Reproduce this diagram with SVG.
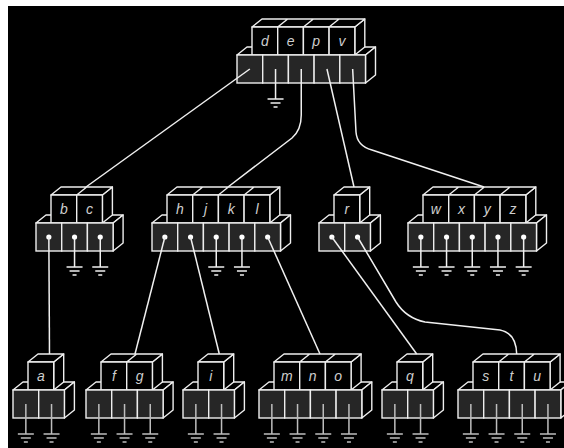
<svg xmlns="http://www.w3.org/2000/svg" xmlns:xlink="http://www.w3.org/1999/xlink" width="564" height="448" viewBox="0 0 564 448">
<style>
.f{fill:#000;stroke:#eee;stroke-width:1.4;stroke-linejoin:round}
.c{fill:#262626;stroke:#eee;stroke-width:1.4}
.t{font-family:"Liberation Sans",Arial,sans-serif;font-style:italic;font-size:14px;fill:#cfcfcf;text-anchor:middle}
.w{stroke:#f0f0f0;stroke-width:1.5;fill:none}
.g{stroke:#bdbdbd;stroke-width:1.5;fill:none}
.cn{stroke:#f0f0f0;stroke-width:1.5;fill:none}
</style>
<defs>
<g id="gnd"><path d="M0,0 V30 M-8,30 H8 M-5,34 H5 M-2,38 H2"/></g>
<circle id="dot" r="2.6" fill="#fff" stroke="none"/>
</defs>
<rect x="0" y="0" width="564" height="448" fill="#fff"/>
<rect x="8" y="6" width="556" height="442" fill="#000"/>

<g id="node-root" transform="translate(237,55)">
<path class="f" d="M0,0 L10,-8 L138.5,-8 L128.5,0Z"/>
<path class="f" d="M117.8,-28 L127.8,-36 L127.8,-8 L117.8,0Z"/>
<path class="f" d="M15,-28 L25,-36 L127.8,-36 L117.8,-28Z M40.7,-28 L50.7,-36 M66.4,-28 L76.4,-36 M92.1,-28 L102.1,-36"/>
<rect class="f" x="15" y="-28" width="25.7" height="28"/><rect class="f" x="40.7" y="-28" width="25.7" height="28"/><rect class="f" x="66.4" y="-28" width="25.7" height="28"/><rect class="f" x="92.1" y="-28" width="25.7" height="28"/>
<path class="f" d="M128.5,0 L138.5,-8 L138.5,20 L128.5,28Z"/>
<rect class="c" x="0" y="0" width="25.7" height="28"/><rect class="c" x="25.7" y="0" width="25.7" height="28"/><rect class="c" x="51.4" y="0" width="25.7" height="28"/><rect class="c" x="77.1" y="0" width="25.7" height="28"/><rect class="c" x="102.8" y="0" width="25.7" height="28"/>
<text class="t" x="27.85" y="-9">d</text><text class="t" x="53.55" y="-9">e</text><text class="t" x="79.25" y="-9">p</text><text class="t" x="104.95" y="-9">v</text>
<use href="#gnd" class="w" x="38.55" y="14"/>
</g>

<g id="node-bc" transform="translate(36,223)">
<path class="f" d="M0,0 L10,-8 L87.1,-8 L77.1,0Z"/>
<path class="f" d="M66.4,-28 L76.4,-36 L76.4,-8 L66.4,0Z"/>
<path class="f" d="M15,-28 L25,-36 L76.4,-36 L66.4,-28Z M40.7,-28 L50.7,-36"/>
<rect class="f" x="15" y="-28" width="25.7" height="28"/><rect class="f" x="40.7" y="-28" width="25.7" height="28"/>
<path class="f" d="M77.1,0 L87.1,-8 L87.1,20 L77.1,28Z"/>
<rect class="c" x="0" y="0" width="25.7" height="28"/><rect class="c" x="25.7" y="0" width="25.7" height="28"/><rect class="c" x="51.4" y="0" width="25.7" height="28"/>
<text class="t" x="27.85" y="-9">b</text><text class="t" x="53.55" y="-9">c</text>
<use href="#dot" x="12.85" y="14"/>
<use href="#gnd" class="w" x="38.55" y="14"/><use href="#dot" x="38.55" y="14"/>
<use href="#gnd" class="w" x="64.25" y="14"/><use href="#dot" x="64.25" y="14"/>
</g>

<g id="node-hjkl" transform="translate(152,223)">
<path class="f" d="M0,0 L10,-8 L138.5,-8 L128.5,0Z"/>
<path class="f" d="M117.8,-28 L127.8,-36 L127.8,-8 L117.8,0Z"/>
<path class="f" d="M15,-28 L25,-36 L127.8,-36 L117.8,-28Z M40.7,-28 L50.7,-36 M66.4,-28 L76.4,-36 M92.1,-28 L102.1,-36"/>
<rect class="f" x="15" y="-28" width="25.7" height="28"/><rect class="f" x="40.7" y="-28" width="25.7" height="28"/><rect class="f" x="66.4" y="-28" width="25.7" height="28"/><rect class="f" x="92.1" y="-28" width="25.7" height="28"/>
<path class="f" d="M128.5,0 L138.5,-8 L138.5,20 L128.5,28Z"/>
<rect class="c" x="0" y="0" width="25.7" height="28"/><rect class="c" x="25.7" y="0" width="25.7" height="28"/><rect class="c" x="51.4" y="0" width="25.7" height="28"/><rect class="c" x="77.1" y="0" width="25.7" height="28"/><rect class="c" x="102.8" y="0" width="25.7" height="28"/>
<text class="t" x="27.85" y="-9">h</text><text class="t" x="53.55" y="-9">j</text><text class="t" x="79.25" y="-9">k</text><text class="t" x="104.95" y="-9">l</text>
<use href="#dot" x="12.85" y="14"/><use href="#dot" x="38.55" y="14"/>
<use href="#gnd" class="w" x="64.25" y="14"/><use href="#dot" x="64.25" y="14"/>
<use href="#gnd" class="w" x="89.95" y="14"/><use href="#dot" x="89.95" y="14"/>
<use href="#dot" x="115.65" y="14"/>
</g>

<g id="node-r" transform="translate(319,223)">
<path class="f" d="M0,0 L10,-8 L61.4,-8 L51.4,0Z"/>
<path class="f" d="M40.7,-28 L50.7,-36 L50.7,-8 L40.7,0Z"/>
<path class="f" d="M15,-28 L25,-36 L50.7,-36 L40.7,-28Z"/>
<rect class="f" x="15" y="-28" width="25.7" height="28"/>
<path class="f" d="M51.4,0 L61.4,-8 L61.4,20 L51.4,28Z"/>
<rect class="c" x="0" y="0" width="25.7" height="28"/><rect class="c" x="25.7" y="0" width="25.7" height="28"/>
<text class="t" x="27.85" y="-9">r</text>
<use href="#dot" x="12.85" y="14"/><use href="#dot" x="38.55" y="14"/>
</g>

<g id="node-wxyz" transform="translate(408,223)">
<path class="f" d="M0,0 L10,-8 L138.5,-8 L128.5,0Z"/>
<path class="f" d="M117.8,-28 L127.8,-36 L127.8,-8 L117.8,0Z"/>
<path class="f" d="M15,-28 L25,-36 L127.8,-36 L117.8,-28Z M40.7,-28 L50.7,-36 M66.4,-28 L76.4,-36 M92.1,-28 L102.1,-36"/>
<rect class="f" x="15" y="-28" width="25.7" height="28"/><rect class="f" x="40.7" y="-28" width="25.7" height="28"/><rect class="f" x="66.4" y="-28" width="25.7" height="28"/><rect class="f" x="92.1" y="-28" width="25.7" height="28"/>
<path class="f" d="M128.5,0 L138.5,-8 L138.5,20 L128.5,28Z"/>
<rect class="c" x="0" y="0" width="25.7" height="28"/><rect class="c" x="25.7" y="0" width="25.7" height="28"/><rect class="c" x="51.4" y="0" width="25.7" height="28"/><rect class="c" x="77.1" y="0" width="25.7" height="28"/><rect class="c" x="102.8" y="0" width="25.7" height="28"/>
<text class="t" x="27.85" y="-9">w</text><text class="t" x="53.55" y="-9">x</text><text class="t" x="79.25" y="-9">y</text><text class="t" x="104.95" y="-9">z</text>
<use href="#gnd" class="w" x="12.85" y="14"/><use href="#dot" x="12.85" y="14"/>
<use href="#gnd" class="w" x="38.55" y="14"/><use href="#dot" x="38.55" y="14"/>
<use href="#gnd" class="w" x="64.25" y="14"/><use href="#dot" x="64.25" y="14"/>
<use href="#gnd" class="w" x="89.95" y="14"/><use href="#dot" x="89.95" y="14"/>
<use href="#gnd" class="w" x="115.65" y="14"/><use href="#dot" x="115.65" y="14"/>
</g>

<g id="node-a" transform="translate(13,390)">
<path class="f" d="M0,0 L10,-8 L61.4,-8 L51.4,0Z"/>
<path class="f" d="M40.7,-28 L50.7,-36 L50.7,-8 L40.7,0Z"/>
<path class="f" d="M15,-28 L25,-36 L50.7,-36 L40.7,-28Z"/>
<rect class="f" x="15" y="-28" width="25.7" height="28"/>
<path class="f" d="M51.4,0 L61.4,-8 L61.4,20 L51.4,28Z"/>
<rect class="c" x="0" y="0" width="25.7" height="28"/><rect class="c" x="25.7" y="0" width="25.7" height="28"/>
<text class="t" x="27.85" y="-9">a</text>
<use href="#gnd" class="g" x="12.85" y="14"/><use href="#gnd" class="g" x="38.55" y="14"/>
</g>

<g id="node-fg" transform="translate(86,390)">
<path class="f" d="M0,0 L10,-8 L87.1,-8 L77.1,0Z"/>
<path class="f" d="M66.4,-28 L76.4,-36 L76.4,-8 L66.4,0Z"/>
<path class="f" d="M15,-28 L25,-36 L76.4,-36 L66.4,-28Z M40.7,-28 L50.7,-36"/>
<rect class="f" x="15" y="-28" width="25.7" height="28"/><rect class="f" x="40.7" y="-28" width="25.7" height="28"/>
<path class="f" d="M77.1,0 L87.1,-8 L87.1,20 L77.1,28Z"/>
<rect class="c" x="0" y="0" width="25.7" height="28"/><rect class="c" x="25.7" y="0" width="25.7" height="28"/><rect class="c" x="51.4" y="0" width="25.7" height="28"/>
<text class="t" x="27.85" y="-9">f</text><text class="t" x="53.55" y="-9">g</text>
<use href="#gnd" class="g" x="12.85" y="14"/><use href="#gnd" class="g" x="38.55" y="14"/><use href="#gnd" class="g" x="64.25" y="14"/>
</g>

<g id="node-i" transform="translate(183,390)">
<path class="f" d="M0,0 L10,-8 L61.4,-8 L51.4,0Z"/>
<path class="f" d="M40.7,-28 L50.7,-36 L50.7,-8 L40.7,0Z"/>
<path class="f" d="M15,-28 L25,-36 L50.7,-36 L40.7,-28Z"/>
<rect class="f" x="15" y="-28" width="25.7" height="28"/>
<path class="f" d="M51.4,0 L61.4,-8 L61.4,20 L51.4,28Z"/>
<rect class="c" x="0" y="0" width="25.7" height="28"/><rect class="c" x="25.7" y="0" width="25.7" height="28"/>
<text class="t" x="27.85" y="-9">i</text>
<use href="#gnd" class="g" x="12.85" y="14"/><use href="#gnd" class="g" x="38.55" y="14"/>
</g>

<g id="node-mno" transform="translate(259,390)">
<path class="f" d="M0,0 L10,-8 L112.8,-8 L102.8,0Z"/>
<path class="f" d="M92.1,-28 L102.1,-36 L102.1,-8 L92.1,0Z"/>
<path class="f" d="M15,-28 L25,-36 L102.1,-36 L92.1,-28Z M40.7,-28 L50.7,-36 M66.4,-28 L76.4,-36"/>
<rect class="f" x="15" y="-28" width="25.7" height="28"/><rect class="f" x="40.7" y="-28" width="25.7" height="28"/><rect class="f" x="66.4" y="-28" width="25.7" height="28"/>
<path class="f" d="M102.8,0 L112.8,-8 L112.8,20 L102.8,28Z"/>
<rect class="c" x="0" y="0" width="25.7" height="28"/><rect class="c" x="25.7" y="0" width="25.7" height="28"/><rect class="c" x="51.4" y="0" width="25.7" height="28"/><rect class="c" x="77.1" y="0" width="25.7" height="28"/>
<text class="t" x="27.85" y="-9">m</text><text class="t" x="53.55" y="-9">n</text><text class="t" x="79.25" y="-9">o</text>
<use href="#gnd" class="g" x="12.85" y="14"/><use href="#gnd" class="g" x="38.55" y="14"/><use href="#gnd" class="g" x="64.25" y="14"/><use href="#gnd" class="g" x="89.95" y="14"/>
</g>

<g id="node-q" transform="translate(382,390)">
<path class="f" d="M0,0 L10,-8 L61.4,-8 L51.4,0Z"/>
<path class="f" d="M40.7,-28 L50.7,-36 L50.7,-8 L40.7,0Z"/>
<path class="f" d="M15,-28 L25,-36 L50.7,-36 L40.7,-28Z"/>
<rect class="f" x="15" y="-28" width="25.7" height="28"/>
<path class="f" d="M51.4,0 L61.4,-8 L61.4,20 L51.4,28Z"/>
<rect class="c" x="0" y="0" width="25.7" height="28"/><rect class="c" x="25.7" y="0" width="25.7" height="28"/>
<text class="t" x="27.85" y="-9">q</text>
<use href="#gnd" class="g" x="12.85" y="14"/><use href="#gnd" class="g" x="38.55" y="14"/>
</g>

<g id="node-stu" transform="translate(458,390)">
<path class="f" d="M0,0 L10,-8 L112.8,-8 L102.8,0Z"/>
<path class="f" d="M92.1,-28 L102.1,-36 L102.1,-8 L92.1,0Z"/>
<path class="f" d="M15,-28 L25,-36 L102.1,-36 L92.1,-28Z M40.7,-28 L50.7,-36 M66.4,-28 L76.4,-36"/>
<rect class="f" x="15" y="-28" width="25.7" height="28"/><rect class="f" x="40.7" y="-28" width="25.7" height="28"/><rect class="f" x="66.4" y="-28" width="25.7" height="28"/>
<path class="f" d="M102.8,0 L112.8,-8 L112.8,20 L102.8,28Z"/>
<rect class="c" x="0" y="0" width="25.7" height="28"/><rect class="c" x="25.7" y="0" width="25.7" height="28"/><rect class="c" x="51.4" y="0" width="25.7" height="28"/><rect class="c" x="77.1" y="0" width="25.7" height="28"/>
<text class="t" x="27.85" y="-9">s</text><text class="t" x="53.55" y="-9">t</text><text class="t" x="79.25" y="-9">u</text>
<use href="#gnd" class="g" x="12.85" y="14"/><use href="#gnd" class="g" x="38.55" y="14"/><use href="#gnd" class="g" x="64.25" y="14"/><use href="#gnd" class="g" x="89.95" y="14"/>
</g>

<g id="connectors" class="cn">
<path d="M249.85,69 L86,187"/>
<path d="M301.25,69 V115 Q301.25,130 292,138 L228,187"/>
<path d="M326.95,69 L354,187"/>
<path d="M352.65,69 L356,132 Q357,146 372,150 L484,187"/>
<path d="M48.85,237 L49.5,354"/>
<path d="M164.85,237 L135,354"/>
<path d="M190.55,237 L219.3,354"/>
<path d="M267.65,237 L320,354"/>
<path d="M331.85,237 L416.7,354"/>
<path d="M357.55,237 L396,302 Q406,318 425,322 L500,330 Q516,333 516.7,354"/>
</g>
</svg>
